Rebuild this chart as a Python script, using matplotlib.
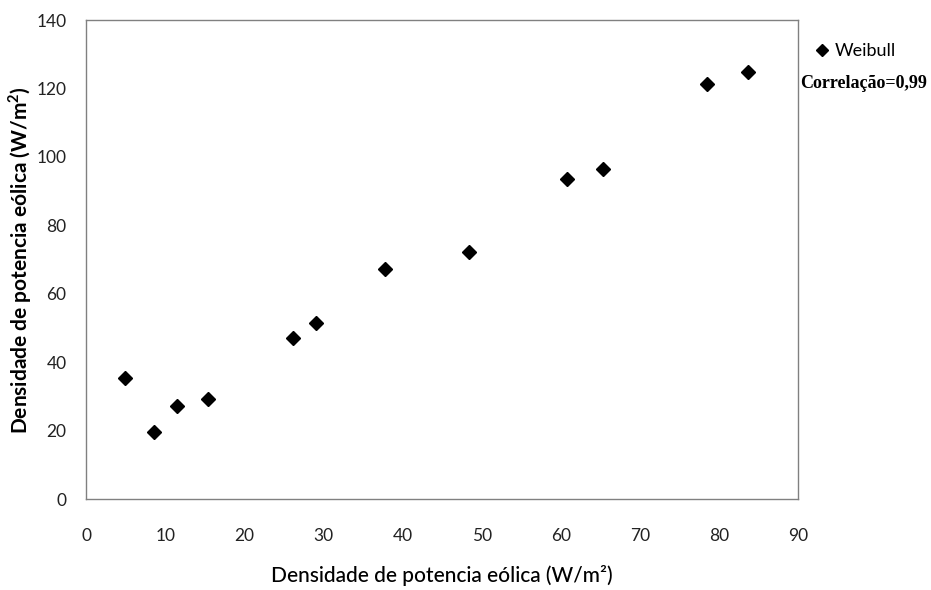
#!/usr/bin/env python3

import matplotlib
matplotlib.use('Agg')
import matplotlib.pyplot as plt

# densidade de potencia eolica: medida (x) vs Weibull (y)
medida = [4.9, 8.6, 11.5, 15.4, 26.1, 29.0, 37.8, 48.4, 60.8, 65.3, 78.5, 83.6]
weibull = [35.5, 19.5, 27.3, 29.2, 47.1, 51.5, 67.1, 72.2, 93.6, 96.5, 121.3, 124.8]
x_ticks = [0, 10, 20, 30, 40, 50, 60, 70, 80, 90]
y_ticks = [0, 20, 40, 60, 80, 100, 120, 140]

plt.rcParams['font.family'] = ['Lato', 'DejaVu Sans']

fig = plt.figure(figsize=(9.31, 5.90), dpi=100)
ax = fig.add_axes([0.0924, 0.1542, 0.765, 0.8118])

ax.plot(medida, weibull, linestyle='none', marker='D', markersize=7.5,
        color='black', label='Weibull')

ax.set_xlim(0, 90)
ax.set_ylim(0, 140)
ax.set_xticks(x_ticks)
ax.set_yticks(y_ticks)
ax.tick_params(axis='both', length=0, labelsize=12.5, colors='#222222')
ax.tick_params(axis='x', pad=21)
ax.tick_params(axis='y', pad=14)
for s in ax.spines.values():
  s.set_color('#808080')
  s.set_linewidth(1.0)

ax.set_xlabel('Densidade de potencia eólica (W/m²)', fontsize=15,
              fontweight='medium', labelpad=15)
ax.set_ylabel('Densidade de potencia eólica (W/m$^\\mathregular{2}$)',
              fontsize=15, fontweight='bold', labelpad=2)

ax.legend(loc='upper left', bbox_to_anchor=(0.995, 0.985), frameon=False,
          handletextpad=0.1, handlelength=1.2, fontsize=13, markerscale=0.8)
fig.text(0.859, 0.858, 'Correlação=0,99', family='Liberation Serif',
         fontweight='bold', fontsize=13, va='center', ha='left')

fig.savefig('out.png', dpi=100)
